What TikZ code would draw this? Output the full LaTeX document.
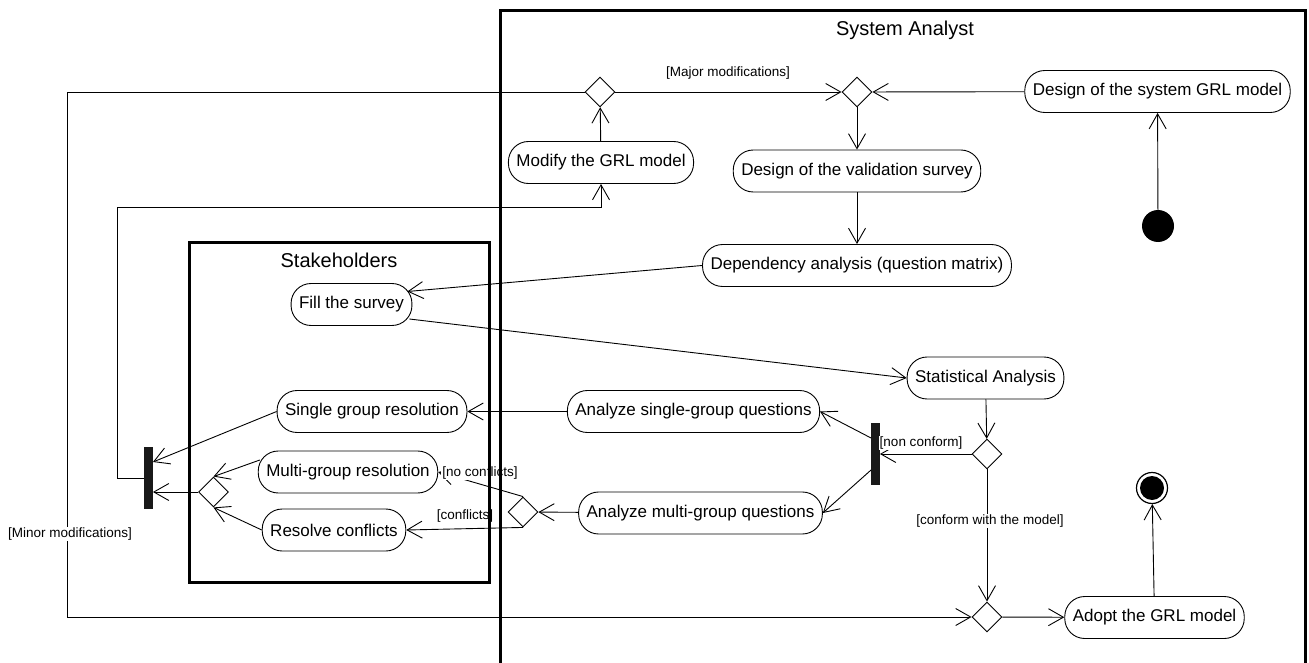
\documentclass[tikz,border=0pt]{standalone}
\usepackage{fontspec}
\setmainfont{Liberation Sans}
\usetikzlibrary{arrows.meta,shapes.geometric}

\begin{document}
\begin{tikzpicture}[x=1pt,y=-1pt,
  act/.style={draw, line width=0.9pt, rounded corners=20pt, minimum height=42pt,
    inner xsep=8pt, inner ysep=0pt, font=\fontsize{17}{20}\selectfont, fill=white},
  decision/.style={draw, line width=0.9pt, diamond, minimum width=30pt,
    minimum height=30pt, inner sep=0pt, fill=white},
  forkbar/.style={fill=black!90, draw=none, minimum width=8.5pt,
    minimum height=62pt, inner sep=0pt},
  guard/.style={font=\fontsize{13.5}{16}\selectfont, fill=white, inner sep=1pt},
  lanetitle/.style={font=\fontsize{20}{24}\selectfont, inner sep=1pt},
  flow/.style={line width=0.9pt, -{Straight Barb[length=15pt,width=17pt]}},
  laneframe/.style={line width=3pt, line join=miter},
]
\useasboundingbox (0,0) rectangle (1309,663);

% activities
\node[act] (sysgrl)    at (1157.5,91.5) {Design of the system GRL model};
\node[act] (modify)    at (601,162.5)   {Modify the GRL model};
\node[act] (valsurvey) at (857,171)     {Design of the validation survey};
\node[act] (depend)    at (857,265.5)   {Dependency analysis (question matrix)};
\node[act] (fill)      at (351.5,304.5) {Fill the survey};
\node[act] (stat)      at (985.5,378)   {Statistical Analysis};
\node[act] (asingle)   at (693.5,411.5) {Analyze single-group questions};
\node[act] (single)    at (372,411.5)   {Single group resolution};
\node[act] (multi)     at (348,472)     {Multi-group resolution};
\node[act] (resolve)   at (334,530)     {Resolve conflicts};
\node[act] (amulti)    at (700.5,513)   {Analyze multi-group questions};
\node[act] (adopt)     at (1154.5,617.5){Adopt the GRL model};

% decisions and merges
\node[decision] (d1) at (600,92) {};
\node[decision] (d2) at (857,92) {};
\node[decision] (d3) at (987,454) {};
\node[decision] (d4) at (987,617) {};
\node[decision] (d5) at (523,512) {};
\node[decision] (d6) at (213.5,492) {};

% fork / join bars
\node[forkbar] (bar1) at (875.5,454) {};
\node[forkbar] (bar2) at (148.5,478) {};

% initial and final nodes
\node[circle, fill=black, minimum size=32pt, inner sep=0pt] (start) at (1158,226) {};
\node[circle, draw, line width=1.2pt, minimum size=31pt, inner sep=0pt] (final) at (1152,488) {};
\node[circle, fill=black, minimum size=24pt, inner sep=0pt] (finalcore) at (final.center) {};

% control flow
\draw[flow] (start) -- (sysgrl);
\draw[flow] (sysgrl) -- (d2);
\draw[flow] (d1) -- (d2);
\draw[flow] (d2) -- (valsurvey);
\draw[flow] (valsurvey) -- (depend);
\draw[flow] (depend.west) -- ([shift={(-5pt,13pt)}]fill.east);
\draw[flow] ([shift={(-3pt,-14.5pt)}]fill.east) -- (stat.west);
\draw[flow] (stat) -- (d3);
\draw[flow] (d3) -- (d3 -| bar1.east);
\draw[flow] ([yshift=16pt]bar1.west) -- (asingle.east);
\draw[flow] ([yshift=-16pt]bar1.west) -- (amulti.east);
\draw[flow] (asingle) -- (single);
\draw[flow] (amulti) -- (d5);
\draw[flow] (d5.north) -- (multi.east);
\draw[flow] (d5.south) -- (resolve.east);
\draw[flow] ([shift={(2pt,12pt)}]multi.west) -- (d6.north);
\draw[flow] (resolve.west) -- (d6.south);
\draw[flow] (d6) -- (d6 -| bar2.east);
\draw[flow] (single.west) -- ([yshift=16pt]bar2.east);
\coordinate (loopA) at (117,207);
\draw[flow] (bar2.west) -| (loopA) -| (modify.south);
\draw[flow] (modify) -- (d1);
\coordinate (loopB) at (67,617);
\draw[flow] (d1.west) -| (loopB) -- (d4.west);
\draw[flow] (d3) -- (d4);
\draw[flow] (d4) -- (adopt);
\draw[flow] (adopt) -- (final);

% guards
\node[guard] (gmajor)   at (728,73)  {[Major modifications]};
\node[guard] (gnon)     at (921,443) {[non conform]};
\node[guard] (gnoconf)  at (480,473) {[no conflicts]};
\node[guard] (gconf)    at (465,516) {[conflicts]};
\node[guard] (gconform) at (990,521) {[conform with the model]};
\node[guard] (gminor)   at (70,534)  {[Minor modifications]};

% swimlanes
\draw[laneframe] (500,663) -- (500,11) -- (1305,11) -- (1305,663);
\draw[laneframe] (189,242) rectangle (489,582);
\node[lanetitle] (tsa) at (905,30)  {System Analyst};
\node[lanetitle] (tsh) at (339,260) {Stakeholders};
\end{tikzpicture}
\end{document}
